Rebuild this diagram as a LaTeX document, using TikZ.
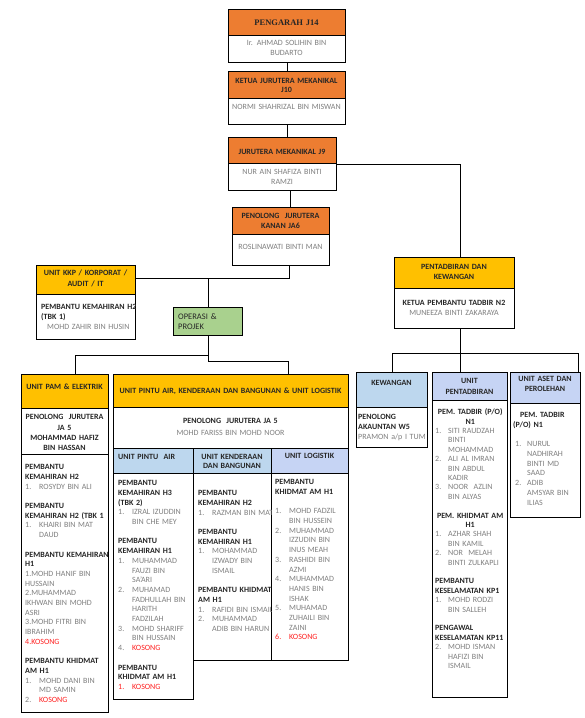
\documentclass[tikz,border=0pt]{standalone}
\usepackage{fontspec}
\setmainfont{Carlito}
\newfontfamily\titleserif{Liberation Serif}
\usetikzlibrary{calc}
\definecolor{hdorange}{HTML}{ED7D31}
\definecolor{unitgold}{HTML}{FFC000}
\definecolor{opgreen}{HTML}{A9D18E}
\definecolor{skyhd}{HTML}{BDD7EE}
\definecolor{lavhd}{HTML}{C6D4F4}
\definecolor{ink}{HTML}{262626}
\definecolor{namegray}{HTML}{7F7F7F}
\definecolor{kosong}{HTML}{FF2020}
\newcommand{\sz}{\fontsize{8}{9.7}\selectfont}
\newcommand{\hd}[1]{{\color{ink}\bfseries #1}}
\newcommand{\nm}[1]{{\mdseries\color{namegray}#1}}
\newcommand{\ks}[1]{{\color{kosong}#1}}
\newcommand{\nb}[2][14pt]{\makebox[#1][l]{#2}}
\newcommand{\ind}[1][14pt]{\hspace*{#1}}
\newcommand{\ctr}[1]{\makebox[\linewidth][c]{#1}}

\begin{document}
\begin{tikzpicture}[x=1pt,y=-1pt,
  box/.style={draw,line width=1.1pt,anchor=north west,inner sep=0pt,fill=white},
  link/.style={draw,line width=0.9pt},
  ctext/.style={inner sep=0pt,anchor=base,align=center,text width=#1pt,font=\sz\bfseries,text=ink},
  cname/.style={inner sep=0pt,anchor=base,align=center,text width=#1pt,font=\sz,text=namegray},
  ltext/.style={inner sep=0pt,anchor=base west,align=left,text width=#1pt,font=\sz,text=namegray}]
\useasboundingbox (0,0) rectangle (585,718);

% top chain
\node[box,minimum width=117,minimum height=53] (pengarah) at (228,9) {};
\node[box,fill=hdorange,minimum width=117,minimum height=26] (pengarahHd) at (228,9) {};
\node[box,minimum width=117,minimum height=53] (ketua) at (228,71) {};
\node[box,fill=hdorange,minimum width=117,minimum height=27] (ketuaHd) at (228,71) {};
\node[box,minimum width=108,minimum height=53] (jurutera) at (228,137) {};
\node[box,fill=hdorange,minimum width=108,minimum height=26] (juruteraHd) at (228,137) {};
\node[box,minimum width=97,minimum height=58] (kanan) at (232,207) {};
\node[box,fill=hdorange,minimum width=97,minimum height=27] (kananHd) at (232,207) {};

% second level
\node[box,minimum width=99,minimum height=74] (kkp) at (36,265) {};
\node[box,fill=unitgold,minimum width=99,minimum height=29] (kkpHd) at (36,265) {};
\node[box,fill=opgreen,minimum width=69,minimum height=28] (operasi) at (173,307) {};
\node[box,minimum width=120,minimum height=71] (pentadbiran) at (394,257) {};
\node[box,fill=unitgold,minimum width=120,minimum height=31] (pentadbiranHd) at (394,257) {};

% units
\node[box,minimum width=87,minimum height=338] (pam) at (21,374) {};
\node[box,minimum width=87,minimum height=80] (pamSub) at (21,374) {};
\node[box,fill=unitgold,minimum width=87,minimum height=34] (pamHd) at (21,374) {};
\node[box,minimum width=235,minimum height=99] (pintu) at (113,374) {};
\node[box,fill=unitgold,minimum width=235,minimum height=33] (pintuHd) at (113,374) {};
\node[box,minimum width=80,minimum height=251] (colair) at (113,448) {};
\node[box,fill=skyhd,minimum width=80,minimum height=25] (colairHd) at (113,448) {};
\node[box,minimum width=78,minimum height=212] (colkend) at (193,448) {};
\node[box,fill=skyhd,minimum width=78,minimum height=25] (colkendHd) at (193,448) {};
\node[box,minimum width=77,minimum height=212] (collog) at (271,448) {};
\node[box,fill=lavhd,minimum width=77,minimum height=25] (collogHd) at (271,448) {};
\node[box,minimum width=71,minimum height=75] (kewangan) at (356,372) {};
\node[box,fill=skyhd,minimum width=71,minimum height=35] (kewanganHd) at (356,372) {};
\node[box,minimum width=75,minimum height=325] (upentadbiran) at (432,372) {};
\node[box,fill=lavhd,minimum width=75,minimum height=28] (upentadbiranHd) at (432,372) {};
\node[box,minimum width=70,minimum height=145] (aset) at (510,372) {};
\node[box,fill=lavhd,minimum width=70,minimum height=31] (asetHd) at (510,372) {};

% connectors
\coordinate (trunk) at (290,0);
\coordinate (ltrunk) at (289,278);
\coordinate (opx) at (208,278);
\coordinate (pambus) at (208,355);
\coordinate (pamx) at (75,355);
\coordinate (pintubus) at (208,361);
\coordinate (pintux) at (288,361);
\coordinate (rtrunk) at (460,353);
\coordinate (rbus) at (578,353);
\draw[link] (pengarah.south) -- (ketua.north);
\draw[link] (ketua.south) -- (ketua.south |- jurutera.north);
\draw[link] (jurutera.south -| trunk) -- (kanan.north -| trunk);
\draw[link] (jurutera.east) -| (pentadbiran.north -| rtrunk);
\draw[link] (kanan.south -| ltrunk) -- (ltrunk) -- (kkp.east |- ltrunk);
\draw[link] (opx) -- (operasi.north -| opx);
\draw[link] (operasi.south -| pambus) -- (pambus) -- (pamx) -- (pam.north -| pamx);
\draw[link] (pambus) -- (pintubus) -- (pintux) -- (pintu.north -| pintux);
\draw[link] (pentadbiran.south -| rtrunk) -- (rtrunk);
\draw[link] (kewangan.north) |- (rbus) -- (aset.north -| rbus);
\draw[link] (rtrunk) -- (upentadbiran.north -| rtrunk);

% texts
\node[ctext=110] (pengarahT) at (286.5,25) {\titleserif\fontsize{8.5}{10}\selectfont PENGARAH J14};
\node[cname=110,font=\fontsize{8}{10}\selectfont] (pengarahN) at (286.5,45.7) {Ir. AHMAD SOLIHIN BIN\\BUDARTO};
\node[ctext=115,font=\fontsize{8}{9}\selectfont\bfseries] (ketuaT) at (286.5,83.7) {KETUA JURUTERA MEKANIKAL\\J10};
\node[cname=115] (ketuaN) at (286.5,109.7) {NORMI SHAHRIZAL BIN MISWAN};
\node[ctext=105] (juruteraT) at (282,154) {JURUTERA MEKANIKAL J9};
\node[cname=105,font=\fontsize{8}{10}\selectfont] (juruteraN) at (282,174.7) {NUR AIN SHAFIZA BINTI\\RAMZI};
\node[ctext=95,font=\fontsize{8}{10}\selectfont\bfseries] (kananT) at (280.5,218.7) {PENOLONG\ \ JURUTERA\\KANAN JA6};
\node[cname=95] (kananN) at (280.5,249.7) {ROSLINAWATI BINTI MAN};

\node[ctext=96,font=\fontsize{8}{11}\selectfont\bfseries] (kkpT) at (85.5,275.7) {UNIT KKP / KORPORAT /\\AUDIT / IT};
\node[ltext=100,font=\fontsize{8}{10}\selectfont] (kkpN) at (41,309.7) {\hd{PEMBANTU KEMAHIRAN H2\\(TBK 1)}\\\ind[6pt]MOHD ZAHIR BIN HUSIN};
\node[ltext=62,font=\fontsize{8.5}{10}\selectfont,text=ink] (operasiT) at (178,319) {OPERASI \&\\PROJEK};
\node[ctext=118,font=\fontsize{8}{10}\selectfont\bfseries] (pentadbiranT) at (454,269.7) {PENTADBIRAN DAN\\KEWANGAN};
\node[ctext=118,font=\fontsize{8}{10}\selectfont\bfseries] (pentadbiranN) at (454,305.7) {KETUA PEMBANTU TADBIR N2\\\nm{MUNEEZA BINTI ZAKARAYA}};

\node[ctext=85] (pamT) at (64.5,389.7) {UNIT PAM \& ELEKTRIK};
\node[ctext=85,font=\fontsize{8}{10.3}\selectfont\bfseries] (pamS) at (64.5,419.7) {PENOLONG\ \ JURUTERA\\JA 5\\MOHAMMAD HAFIZ\\BIN HASSAN};
\node[ltext=100] (pamL) at (25,469.7) {\hd{PEMBANTU\\KEMAHIRAN H2}\\\nb{1.}ROSYDY BIN ALI\\[9.7pt]
\hd{PEMBANTU\\KEMAHIRAN H2 (TBK 1}\\\nb{1.}KHAIRI BIN MAT\\\ind DAUD\\[9.7pt]
\hd{PEMBANTU KEMAHIRAN\\H1}\\1.MOHD HANIF BIN\\HUSSAIN\\2.MUHAMMAD\\IKHWAN BIN MOHD\\ASRI\\3.MOHD FITRI BIN\\IBRAHIM\\\ks{4.KOSONG}\\[9.7pt]
\hd{PEMBANTU KHIDMAT\\AM H1}\\\nb{1.}MOHD DANI BIN\\\ind MD SAMIN\\\nb{2.}\ks{KOSONG}};

\node[ctext=230] (pintuT) at (230.5,393.7) {UNIT PINTU\ AIR, KENDERAAN DAN BANGUNAN \& UNIT LOGISTIK};
\node[ctext=230,font=\fontsize{8}{12}\selectfont\bfseries] (pintuS) at (230.5,423.7) {PENOLONG\ \ JURUTERA JA 5\\\nm{MOHD FARISS BIN MOHD NOOR}};
\node[ltext=78,font=\sz\bfseries,text=ink] (colairT) at (118,459.7) {UNIT PINTU\ \ AIR};
\node[ctext=76,font=\fontsize{8}{9}\selectfont\bfseries] (colkendT) at (232,459.7) {UNIT KENDERAAN\\DAN BANGUNAN};
\node[ctext=75] (collogT) at (309.5,458.7) {UNIT LOGISTIK};
\node[ltext=78] (colairL) at (118,485.7) {\hd{PEMBANTU\\KEMAHIRAN H3\\(TBK 2)}\\\nb{1.}IZRAL IZUDDIN\\\ind BIN CHE MEY\\[9.7pt]
\hd{PEMBANTU\\KEMAHIRAN H1}\\\nb{1.}MUHAMMAD\\\ind FAUZI BIN\\\ind SA’ARI\\\nb{2.}MUHAMAD\\\ind FADHULLAH BIN\\\ind HARITH\\\ind FADZILAH\\\nb{3.}MOHD SHARIFF\\\ind BIN HUSSAIN\\\nb{4.}\ks{KOSONG}\\[9.7pt]
\hd{PEMBANTU\\KHIDMAT AM H1}\\\ks{\nb{1.}KOSONG}};
\begin{scope}
\clip (193,473) rectangle (271,660);
\node[ltext=110] (colkendL) at (198,495.7) {\hd{PEMBANTU\\KEMAHIRAN H2}\\\nb{1.}RAZMAN BIN MAT\\[9.7pt]
\hd{PEMBANTU\\KEMAHIRAN H1}\\\nb{1.}MOHAMMAD\\\ind IZWADY BIN\\\ind ISMAIL\\[9.7pt]
\hd{PEMBANTU KHIDMAT\\AM H1}\\\nb{1.}RAFIDI BIN ISMAIL\\\nb{2.}MUHAMMAD\\\ind ADIB BIN HARUN};
\end{scope}
\node[ltext=75] (collogL) at (275,484.7) {\hd{PEMBANTU\\KHIDMAT AM H1}\\[9.7pt]
\nb{1.}MOHD FADZIL\\\ind BIN HUSSEIN\\\nb{2.}MUHAMMAD\\\ind IZZUDIN BIN\\\ind INUS MEAH\\\nb{3.}RASHIDI BIN\\\ind AZMI\\\nb{4.}MUHAMMAD\\\ind HANIS BIN\\\ind ISHAK\\\nb{5.}MUHAMAD\\\ind ZUHAILI BIN\\\ind ZAINI\\\ks{\nb{6.}KOSONG}};

\node[ctext=69] (kewanganT) at (391.5,385.5) {KEWANGAN};
\node[ltext=70,font=\fontsize{8}{10}\selectfont] (kewanganN) at (358,419.7) {\hd{PENOLONG\\AKAUNTAN W5}\\PRAMON a/p I TUM};
\node[ctext=73,font=\fontsize{8}{11}\selectfont\bfseries] (upentadbiranT) at (469.5,383.7) {UNIT\\PENTADBIRAN};
\node[ltext=70,font=\fontsize{8}{9.4}\selectfont] (upentadbiranL) at (435,414.7) {\hd{\ctr{PEM. TADBIR (P/O)}\\\ctr{N1}}\\\nb[13pt]{1.}SITI RAUDZAH\\\ind[13pt]BINTI\\\ind[13pt]MOHAMMAD\\\nb[13pt]{2.}ALI AL IMRAN\\\ind[13pt]BIN ABDUL\\\ind[13pt]KADIR\\\nb[13pt]{3.}NOOR\ \ AZLIN\\\ind[13pt]BIN ALYAS\\[9.4pt]
\hd{\ctr{PEM. KHIDMAT AM}\\\ctr{H1}}\\\nb[13pt]{1.}AZHAR SHAH\\\ind[13pt]BIN KAMIL\\\nb[13pt]{2.}NOR\ \ MELAH\\\ind[13pt]BINTI ZULKAPLI\\[9.4pt]
\hd{PEMBANTU\\KESELAMATAN KP1}\\\nb[13pt]{1.}MOHD RODZI\\\ind[13pt]BIN SALLEH\\[9.4pt]
\hd{PENGAWAL\\KESELAMATAN KP11}\\\nb[13pt]{2.}MOHD ISMAN\\\ind[13pt]HAFIZI BIN\\\ind[13pt]ISMAIL};
\node[ctext=68] (asetT) at (545,381.7) {UNIT ASET DAN\\PEROLEHAN};
\node[ltext=66] (asetL) at (513,417.7) {\hd{\ind[7pt]PEM. TADBIR\\(P/O) N1}\\[9.7pt]\ind[2pt]\nb[12pt]{1.}NURUL\\\ind[14pt]NADHIRAH\\\ind[14pt]BINTI MD\\\ind[14pt]SAAD\\\ind[2pt]\nb[12pt]{2.}ADIB\\\ind[14pt]AMSYAR BIN\\\ind[14pt]ILIAS};
\end{tikzpicture}
\end{document}
